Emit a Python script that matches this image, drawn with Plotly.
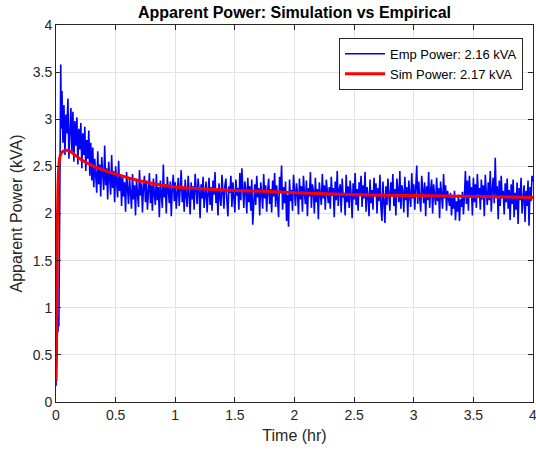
import plotly.graph_objects as go

# ---- Empirical (blue) data ----
t_emp_start = [0, 0.004, 0.008, 0.012, 0.016, 0.02, 0.024, 0.028, 0.032, 0.036, 0.04, 0.044]
p_emp_start = [0.17, 0.45, 0.62, 0.78, 0.74, 0.9, 0.8, 1.6, 2.6, 3.2, 3.58, 2.9]

p_emp_main = [
    # 0.05 - 0.30
    3.30, 2.75, 3.15, 2.62, 3.05, 2.85, 3.22, 2.58, 2.95, 3.12, 2.66, 3.08, 2.55, 2.98, 2.72,
    3.02, 2.52, 2.90, 2.68, 2.96, 2.48, 2.85, 2.62, 2.92, 2.45, 2.78, 2.58, 2.88, 2.40, 2.75,
    # 0.30 - 0.55
    2.35, 2.70, 2.28, 2.58, 2.40, 2.22, 2.66, 2.31, 2.52, 2.18, 2.60, 2.36, 2.25, 2.72, 2.30,
    2.48, 2.15, 2.55, 2.33, 2.20, 2.62, 2.27, 2.45, 2.12, 2.50, 2.38, 2.17, 2.56, 2.24, 2.42,
    # 0.55 - 0.80
    2.08, 2.40, 2.18, 2.33, 2.02, 2.44, 2.21, 2.10, 2.38, 2.26, 2.05, 2.42, 2.15, 2.30, 1.98,
    2.36, 2.22, 2.07, 2.46, 2.19, 2.32, 2.01, 2.28, 2.40, 2.12, 2.35, 2.04, 2.25, 2.43, 2.11,
    # 0.80 - 1.05
    2.30, 2.03, 2.37, 2.20, 2.09, 2.42, 2.14, 2.28, 1.96, 2.35, 2.24, 2.06, 2.52, 2.17, 2.31,
    2.00, 2.39, 2.21, 2.11, 2.34, 1.97, 2.27, 2.41, 2.13, 2.33, 2.05, 2.23, 2.38, 2.08, 2.29,
    # 1.05 - 1.30
    2.46, 2.12, 2.27, 2.02, 2.36, 2.19, 2.07, 2.40, 2.25, 1.99, 2.33, 2.15, 2.29, 2.04, 2.42,
    2.18, 2.10, 2.37, 2.23, 1.95, 2.31, 2.16, 2.39, 2.06, 2.26, 2.34, 2.01, 2.21, 2.38, 2.09,
    # 1.30 - 1.55
    2.28, 2.03, 2.35, 2.20, 2.44, 2.11, 2.26, 1.98, 2.32, 2.17, 2.08, 2.41, 2.24, 2.05, 2.30,
    2.37, 2.13, 1.97, 2.29, 2.22, 2.40, 2.07, 2.33, 2.15, 2.01, 2.36, 2.19, 2.27, 2.04, 2.43,
    # 1.55 - 1.80
    2.14, 2.48, 2.20, 2.06, 2.34, 2.25, 2.00, 2.38, 2.12, 2.29, 2.03, 2.36, 1.88, 2.22, 2.31,
    2.09, 2.40, 2.17, 2.27, 1.98, 2.33, 2.21, 2.05, 2.42, 2.16, 2.30, 2.02, 2.24, 2.37, 2.10,
    # 1.80 - 2.05
    2.26, 2.01, 2.35, 2.18, 2.43, 2.07, 2.30, 2.14, 1.96, 2.39, 2.23, 2.51, 2.04, 2.28, 2.11,
    2.34, 1.92, 2.20, 1.86, 2.36, 2.13, 2.25, 2.03, 2.41, 2.19, 2.08, 2.32, 2.22, 1.99, 2.37,
    # 2.05 - 2.30
    2.15, 2.29, 2.02, 2.40, 2.21, 2.10, 2.35, 1.97, 2.27, 2.18, 2.44, 2.06, 2.31, 2.24, 2.00,
    2.38, 2.12, 2.26, 1.94, 2.33, 2.20, 2.09, 2.42, 2.16, 2.30, 2.04, 2.36, 2.23, 2.11, 2.28,
    # 2.30 - 2.55
    2.05, 2.39, 2.19, 2.27, 1.96, 2.34, 2.14, 2.45, 2.08, 2.25, 2.31, 2.01, 2.37, 2.17, 2.22,
    1.98, 2.41, 2.12, 2.29, 2.06, 2.35, 2.20, 1.95, 2.32, 2.15, 2.43, 2.09, 2.26, 2.03, 2.33,
    # 2.55 - 2.80
    2.21, 2.40, 2.07, 2.30, 2.16, 2.44, 2.02, 2.28, 2.19, 1.97, 2.36, 2.11, 2.25, 2.04, 2.38,
    2.18, 2.32, 2.00, 2.27, 2.13, 2.41, 2.06, 1.92, 2.34, 2.15, 1.90, 2.29, 2.09, 2.37, 2.22,
    # 2.80 - 3.05
    2.03, 2.33, 2.18, 2.42, 2.08, 2.26, 1.98, 2.37, 2.20, 2.12, 2.45, 2.05, 2.30, 2.23, 2.01,
    2.39, 2.14, 2.28, 1.96, 2.35, 2.19, 2.07, 2.43, 2.16, 2.31, 2.04, 2.27, 2.51, 2.10, 2.34,
    # 3.05 - 3.30
    2.17, 2.02, 2.40, 2.22, 2.11, 2.33, 1.97, 2.29, 2.14, 2.44, 2.06, 2.25, 2.36, 2.00, 2.31,
    2.19, 2.09, 2.38, 2.13, 2.27, 1.95, 2.34, 2.21, 2.05, 2.42, 2.16, 2.30, 2.03, 2.24, 2.12,
    # 3.30 - 3.55
    2.08, 2.22, 1.98, 2.17, 2.05, 2.24, 1.93, 2.13, 2.02, 2.20, 1.92, 2.15, 2.07, 2.23, 1.99,
    2.18, 2.45, 2.10, 2.35, 2.03, 2.40, 2.19, 2.28, 1.98, 2.38, 2.12, 2.31, 2.06, 2.42, 2.20,
    # 3.55 - 3.80
    2.27, 2.04, 2.36, 2.15, 2.30, 1.97, 2.41, 2.21, 2.09, 2.33, 2.14, 2.45, 2.02, 2.26, 2.38,
    2.11, 2.59, 2.18, 2.29, 1.94, 2.35, 2.08, 2.40, 2.16, 2.24, 1.99, 2.32, 2.12, 2.37, 2.05,
    # 3.80 - 4.00
    2.25, 1.93, 2.31, 2.10, 2.36, 1.96, 2.22, 2.04, 2.33, 1.89, 2.27, 2.14, 2.38, 2.00, 2.19,
    2.30, 1.91, 2.24, 2.08, 2.35, 1.87, 2.28, 2.13, 2.40, 2.34,
]
t_emp_main = [round(0.05 + i / 120, 5) for i in range(len(p_emp_main))]

t_emp = t_emp_start + t_emp_main
p_emp = p_emp_start + p_emp_main

# ---- Simulation (red) data ----
t_sim = [0, 0.004, 0.008, 0.012, 0.016, 0.02, 0.025, 0.03, 0.04, 0.06, 0.09, 0.12, 0.15,
         0.2, 0.3, 0.4, 0.5, 0.6, 0.8, 1.0, 1.25, 1.5, 1.75, 2.0, 2.5, 3.0, 3.5, 4.0]
p_sim = [0.22, 0.6, 1.3, 1.9, 2.25, 2.42, 2.52, 2.58, 2.63, 2.66, 2.67, 2.66, 2.63,
         2.58, 2.51, 2.46, 2.42, 2.38, 2.32, 2.28, 2.26, 2.245, 2.235, 2.22, 2.2, 2.19, 2.18, 2.17]

emp_label = "Emp Power: 2.16 kVA"
sim_label = "Sim Power: 2.17 kVA"

tick_vals = [0, 0.5, 1, 1.5, 2, 2.5, 3, 3.5, 4]
tick_text = ["0", "0.5", "1", "1.5", "2", "2.5", "3", "3.5", "4"]

FONT = "Liberation Sans, Arial, Helvetica"

fig = go.Figure()
fig.add_trace(go.Scatter(x=t_emp, y=p_emp, mode="lines", name=emp_label,
                         line=dict(color="#0000ff", width=1.6)))
fig.add_trace(go.Scatter(x=t_sim, y=p_sim, mode="lines", name=sim_label,
                         line=dict(color="#ff0000", width=3, shape="spline", smoothing=0.6)))

axis_common = dict(
    range=[0, 4], tickvals=tick_vals, ticktext=tick_text,
    showgrid=True, gridcolor="#e3e3e3", gridwidth=1,
    showline=True, linecolor="#262626", linewidth=1, mirror="allticks",
    ticks="inside", ticklen=5, tickcolor="#262626",
    tickfont=dict(family=FONT, size=14, color="#262626"),
    ticklabeloverflow="allow",
    zeroline=False,
)

fig.update_layout(
    width=536, height=452,
    margin=dict(l=56, r=3, t=25, b=50, autoexpand=False),
    paper_bgcolor="white", plot_bgcolor="white",
    title=dict(text="<b>Apparent Power: Simulation vs Empirical</b>",
               xref="paper", x=0.5, xanchor="center",
               yref="container", y=0.972, yanchor="middle",
               font=dict(family=FONT, size=16, color="#000000")),
    xaxis=dict(**axis_common,
               title=dict(text="Time (hr)", standoff=8,
                          font=dict(family=FONT, size=16, color="#262626"))),
    yaxis=dict(**axis_common,
               title=dict(text="Apparent Power (kVA)", standoff=6,
                          font=dict(family=FONT, size=16, color="#262626"))),
    legend=dict(x=0.979, y=0.966, xanchor="right", yanchor="top",
                bgcolor="white", bordercolor="#262626", borderwidth=1,
                font=dict(family=FONT, size=13, color="#000000"),
                tracegroupgap=0, itemwidth=40),
    showlegend=True,
)

fig.write_html("out.html", config={"displayModeBar": False},
               post_script="document.body.style.margin='0';document.body.style.padding='0';")
